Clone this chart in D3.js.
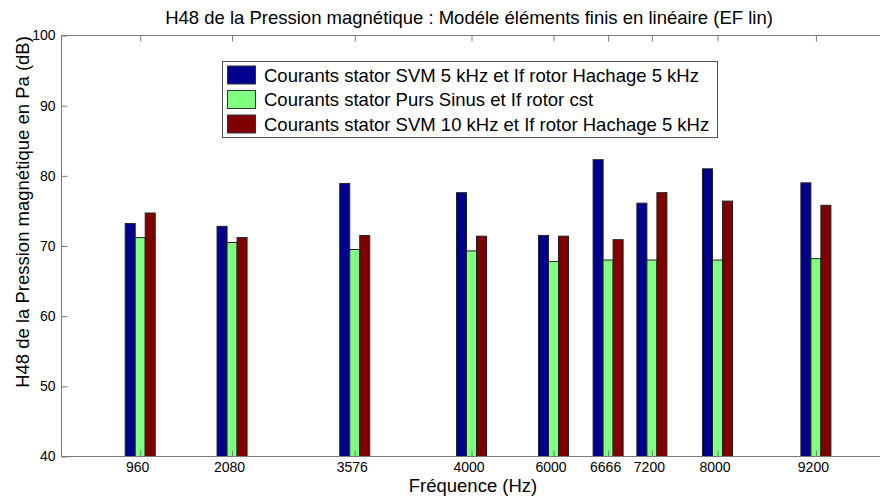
<!DOCTYPE html>
<html><head><meta charset="utf-8">
<script src="https://cdn.jsdelivr.net/npm/d3@7"></script>
<style>body{margin:0;background:#fff;}svg{display:block;font-family:Arial,"Liberation Sans",sans-serif;}</style>
</head><body><svg id="c" width="880" height="498"></svg>
<script>
const positions = [960, 2080, 3576, 5000, 6000, 6666, 7200, 8000, 9200];
const tickLabels = ["960", "2080", "3576", "4000", "6000", "6666", "7200", "8000", "9200"];
const seriesNames = [
  "Courants stator SVM 5 kHz et If rotor Hachage 5 kHz",
  "Courants stator Purs Sinus et If rotor cst",
  "Courants stator SVM 10 kHz et If rotor Hachage 5 kHz"
];
const svm5 = [73.2, 72.8, 78.9, 77.6, 71.5, 82.3, 76.1, 81.0, 79.0];
const sinus = [71.2, 70.5, 69.5, 69.3, 67.8, 68.0, 68.0, 68.0, 68.2];
const svm10 = [74.7, 71.2, 71.5, 71.4, 71.4, 70.9, 77.6, 76.4, 75.8];
const series = [svm5, sinus, svm10];
const colors = ["#00008F", "#80FF80", "#800000"];
const yTicks = [40, 50, 60, 70, 80, 90, 100];
const barWidthHz = 122;

const svg = d3.select("#c");
const L = 61.5, R = 881.5, T = 35.5, B = 456.5;
const x = d3.scaleLinear().domain([0, 10000]).range([L, R]);
const y = d3.scaleLinear().domain([40, 100]).range([B, T]);
const bw = x(barWidthHz) - x(0);

// bars
series.forEach((vals, si) => {
  svg.append("g").selectAll("rect").data(vals).join("rect")
    .attr("x", (d, i) => x(positions[i]) + (si - 1.5) * bw)
    .attr("y", d => y(d))
    .attr("width", bw)
    .attr("height", d => B - y(d))
    .attr("fill", colors[si])
    .attr("stroke", "#222")
    .attr("stroke-width", 1);
});

// axes box
const axisColor = "#7a7a7a";
svg.append("rect").attr("x", L).attr("y", T).attr("width", R - L).attr("height", B - T)
  .attr("fill", "none").attr("stroke", axisColor).attr("stroke-width", 1);

// y axis (ticks inside)
const yAxis = d3.axisLeft(y).tickValues(yTicks).tickSizeInner(-6).tickSizeOuter(0).tickPadding(6);
const gy = svg.append("g").attr("transform", `translate(${L},0)`).call(yAxis);
gy.select(".domain").remove();
gy.selectAll("line").attr("stroke", axisColor);
gy.selectAll("text").attr("font-size", 14).attr("fill", "#000").attr("font-family", "Arial, 'Liberation Sans', sans-serif");

// x axis bottom (ticks inside)
const xAxis = d3.axisBottom(x).tickValues(positions).tickFormat((d, i) => tickLabels[i])
  .tickSizeInner(-6).tickSizeOuter(0).tickPadding(6);
const gx = svg.append("g").attr("transform", `translate(0,${B})`).call(xAxis);
gx.select(".domain").remove();
gx.selectAll("line").attr("stroke", axisColor);
gx.selectAll("text").attr("font-size", 14).attr("fill", "#000").attr("font-family", "Arial, 'Liberation Sans', sans-serif")
  .attr("dx", -3);

// x axis top ticks
const gxt = svg.append("g").attr("transform", `translate(0,${T})`)
  .call(d3.axisTop(x).tickValues(positions).tickFormat("").tickSizeInner(-6).tickSizeOuter(0));
gxt.select(".domain").remove();
gxt.selectAll("line").attr("stroke", axisColor);

// titles
svg.append("text").attr("x", 469).attr("y", 24).attr("text-anchor", "middle")
  .attr("font-size", 18.5).text("H48 de la Pression magnétique : Modéle éléments finis en linéaire (EF lin)");
svg.append("text").attr("x", 473).attr("y", 492).attr("text-anchor", "middle")
  .attr("font-size", 18.5).text("Fréquence (Hz)");
svg.append("text").attr("transform", `translate(29,${212}) rotate(-90)`).attr("text-anchor", "middle")
  .attr("font-size", 18.5).text("H48 de la Pression magnétique en Pa (dB)");

// legend
const lg = svg.append("g");
lg.append("rect").attr("x", 222.5).attr("y", 61.5).attr("width", 495).attr("height", 76)
  .attr("fill", "#fff").attr("stroke", "#555");
seriesNames.forEach((n, i) => {
  const cy = 75 + i * 24.5;
  lg.append("rect").attr("x", 227.5).attr("y", cy - 9).attr("width", 28).attr("height", 18)
    .attr("fill", colors[i]).attr("stroke", "#333");
  lg.append("text").attr("x", 264).attr("y", cy + 6.5).attr("font-size", 18.5).text(n);
});
</script></body></html>
